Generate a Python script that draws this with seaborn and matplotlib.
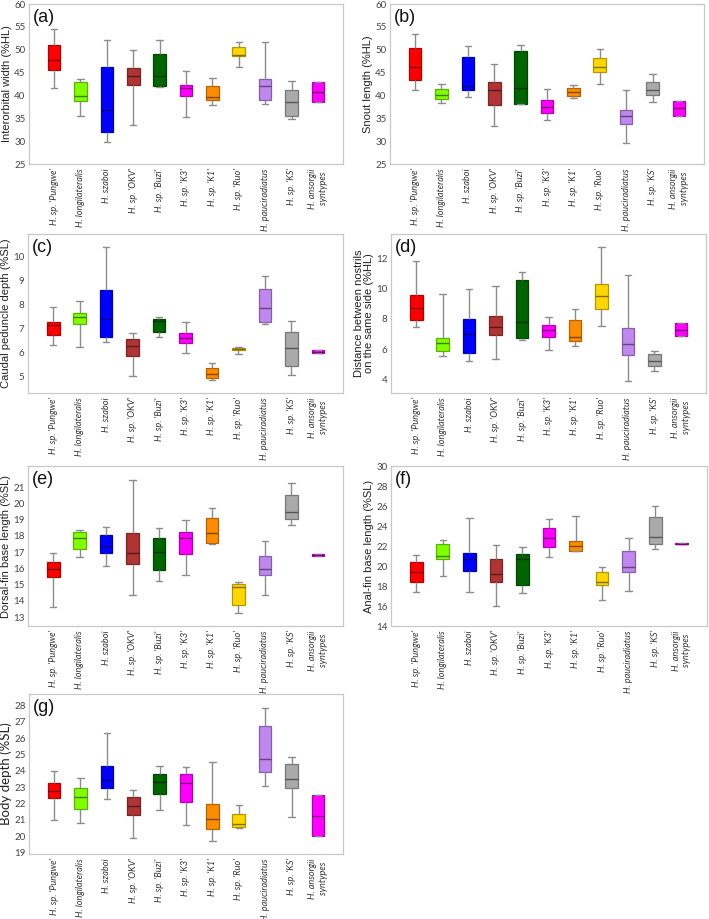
import pandas as pd
import matplotlib
matplotlib.use("Agg")
import matplotlib.pyplot as plt
import matplotlib.colors as mcolors
import seaborn as sns

sns.set_style("white")
plt.rcParams["font.family"] = ["Liberation Sans", "DejaVu Sans"]

# ---- species (x categories) and colours ----
species = ["H. sp. 'Pungwe'", "H. longilateralis", "H. szaboi", "H. sp. 'OKV'",
           "H. sp. 'Buzi'", "H. sp. 'K3'", "H. sp. 'K1'", "H. sp. 'Ruo'",
           "H. pauciradiatus", "H. sp. 'KS'", "H. ansorgii\nsyntypes"]
colors = ["#FF0000", "#80FF00", "#0000FF", "#B03434", "#006400", "#FF00FF",
          "#FF8C00", "#FFD700", "#BF88EE", "#AAAAAA", "#FF00FF"]

# ---- five-number summaries per species: min, q1, median, q3, max ----
interorbital = [[41.6, 45.6, 47.7, 51.0, 54.5], [35.5, 38.8, 39.9, 42.9, 43.6],
                [29.8, 32.1, 36.9, 46.3, 52.1], [33.6, 42.2, 44.3, 46.1, 50.0],
                [41.8, 42.1, 44.2, 49.0, 52.1], [35.3, 39.9, 41.6, 42.2, 45.4],
                [38.0, 38.9, 39.6, 42.0, 43.8], [46.3, 48.6, 48.9, 50.5, 51.6],
                [38.1, 38.9, 42.0, 43.6, 51.6], [34.9, 35.4, 38.5, 41.1, 43.2],
                [38.5, 38.5, 40.7, 42.9, 42.9]]
snout = [[41.1, 43.3, 46.2, 50.3, 53.5], [38.3, 39.2, 40.2, 41.5, 42.5],
         [39.6, 41.2, 42.1, 48.5, 50.8], [33.4, 37.9, 41.1, 42.9, 46.8],
         [38.1, 38.1, 41.7, 49.8, 51.0], [34.7, 36.2, 37.5, 39.1, 41.4],
         [39.4, 39.8, 40.8, 41.7, 42.3], [42.6, 45.2, 46.3, 48.1, 50.2],
         [29.7, 33.7, 35.5, 36.8, 41.1], [38.5, 40.2, 41.2, 42.9, 44.6],
         [35.4, 35.4, 37.2, 38.8, 38.8]]
caudal = [[6.32, 6.74, 7.13, 7.26, 7.90], [6.21, 7.19, 7.49, 7.64, 8.15],
          [6.42, 6.64, 7.40, 8.61, 10.39], [5.03, 5.83, 6.28, 6.54, 6.81],
          [6.65, 6.85, 7.32, 7.39, 7.46], [5.99, 6.40, 6.60, 6.79, 7.26],
          [4.85, 4.92, 5.10, 5.35, 5.54], [5.94, 6.08, 6.14, 6.19, 6.21],
          [7.18, 7.29, 7.85, 8.67, 9.19], [5.07, 5.43, 6.19, 6.86, 7.33],
          [5.97, 5.97, 6.03, 6.08, 6.08]]
nostrils = [[7.47, 7.91, 8.69, 9.55, 11.82], [5.55, 5.90, 6.39, 6.74, 9.61],
            [5.22, 5.72, 6.98, 7.96, 9.97], [5.35, 6.96, 7.49, 8.20, 10.19],
            [6.63, 6.76, 7.76, 10.54, 11.12], [5.97, 6.81, 7.29, 7.60, 8.09],
            [6.21, 6.54, 6.83, 7.89, 8.62], [7.51, 8.66, 9.50, 10.28, 12.75],
            [3.91, 5.61, 6.36, 7.40, 10.92], [4.57, 4.91, 5.24, 5.70, 5.86],
            [6.85, 6.85, 7.29, 7.71, 7.71]]
dorsal = [[13.59, 15.48, 15.97, 16.36, 16.96], [16.67, 17.16, 17.86, 18.25, 18.37],
          [16.16, 16.96, 17.35, 18.03, 18.54], [14.37, 16.24, 16.96, 18.17, 21.41],
          [15.24, 15.89, 17.00, 17.88, 18.48], [15.61, 16.90, 17.86, 18.25, 18.95],
          [17.49, 17.59, 18.17, 19.11, 19.71], [13.25, 13.72, 14.85, 15.01, 15.15],
          [14.37, 15.61, 15.97, 16.79, 17.68], [18.64, 19.05, 19.46, 20.53, 21.27],
          [16.77, 16.77, 16.82, 16.86, 16.86]]
anal = [[17.37, 18.40, 19.40, 20.43, 21.07], [19.03, 20.67, 20.97, 22.20, 22.57],
        [17.37, 19.50, 20.70, 21.33, 24.77], [16.00, 18.43, 19.17, 20.73, 22.13],
        [17.27, 18.13, 20.70, 21.20, 21.87], [20.93, 21.93, 22.77, 23.77, 24.67],
        [21.53, 21.53, 22.03, 22.50, 24.97], [16.60, 18.13, 18.43, 19.37, 19.87],
        [17.53, 19.40, 19.87, 21.47, 22.77], [21.67, 22.17, 22.87, 24.87, 25.97],
        [22.17, 22.17, 22.20, 22.27, 22.27]]
body = [[21.00, 22.33, 22.78, 23.24, 23.96], [20.80, 21.67, 22.39, 22.92, 23.53],
        [22.27, 22.94, 23.45, 24.27, 26.31], [19.88, 21.29, 21.86, 22.39, 22.84],
        [21.61, 22.55, 23.29, 23.80, 24.27], [20.67, 22.06, 23.24, 23.80, 24.20],
        [19.71, 20.45, 21.04, 21.96, 24.55], [20.47, 20.55, 20.73, 21.35, 21.88],
        [23.08, 23.92, 24.73, 26.71, 27.86], [21.16, 22.94, 23.49, 24.43, 24.82],
        [19.98, 19.98, 21.20, 22.49, 22.49]]

ylabels = ["Interorbital width (%HL)", "Snout length (%HL)",
           "Caudal peduncle depth (%SL)", "Distance between nostrils\non the same side (%HL)",
           "Dorsal-fin base length (%SL)", "Anal-fin base length (%SL)", "Body depth (%SL)"]
letters = ["(a)", "(b)", "(c)", "(d)", "(e)", "(f)", "(g)"]
ylims = [(25, 60), (25, 60), (4.3, 10.95), (3.1, 13.6), (12.45, 22.3), (14, 30), (18.9, 28.7)]
yticks = [range(25, 61, 5), range(25, 61, 5), range(5, 11), range(4, 13, 2),
          range(13, 22), range(14, 31, 2), range(19, 29)]
panels = [interorbital, snout, caudal, nostrils, dorsal, anal, body]

# axes boxes in pixels: left, top, right, bottom
W, H = 709, 919
boxes_px = [(29, 4, 343, 164), (390, 4, 704, 164),
            (28, 234, 343, 393), (391, 234, 706, 393),
            (28, 466, 343, 626), (391, 466, 707, 626),
            (29, 694, 343, 854)]


def darker(c, f=0.65):
    r, g, b = mcolors.to_rgb(c)
    return (r * f, g * f, b * f)


fig = plt.figure(figsize=(W / 100, H / 100), dpi=100)
palette = dict(zip(species, colors))

for i, summ in enumerate(panels):
    l, t, r, b = boxes_px[i]
    ax = fig.add_axes([l / W, 1 - b / H, (r - l) / W, (b - t) / H])
    # long table: the five summary numbers per species
    rows = [(sp, v) for sp, vals in zip(species, summ) for v in vals]
    df = pd.DataFrame(rows, columns=["species", "value"])
    sns.boxplot(data=df, x="species", y="value", hue="species", order=species,
                hue_order=species, palette=palette, dodge=False, legend=False,
                saturation=1, whis=(0, 100), width=0.48, linewidth=1.0,
                linecolor="#8c8c8c", ax=ax)
    for cont in ax.containers:
        for box in cont.boxes:
            fc = box.get_facecolor()
            box.set_edgecolor(darker(fc, 0.7))
            box.set_linewidth(0.9)
        for med in cont.medians:
            med.set_color(darker(fc, 0.5))
            med.set_linewidth(1.0)
        for w in list(cont.whiskers) + list(cont.caps):
            w.set_color("#8c8c8c")
            w.set_linewidth(1.0)

    ax.set_xlim(-0.95, 10.95)
    ax.set_ylim(*ylims[i])
    ax.set_yticks(list(yticks[i]))
    ax.set_xlabel("")
    if i < 6:
        ax.set_ylabel(ylabels[i], fontsize=8, color="#222222", labelpad=1.5,
                      linespacing=1.0, family=["Liberation Sans", "DejaVu Sans"])
    else:
        ax.set_ylabel(ylabels[i], fontsize=9.5, color="#222222", labelpad=1.5,
                      family=["Lato", "DejaVu Sans"])
    ax.set_xticks(range(len(species)))
    ax.set_xticklabels(species, rotation=90, fontsize=6.6, style="italic",
                       color="#333333", family=["Lato", "DejaVu Sans"],
                       ha="center", va="top", multialignment="center")
    ax.tick_params(axis="x", length=0, pad=3)
    ax.tick_params(axis="y", length=2, width=0.6, color="#999999", pad=0.5,
                   labelsize=7, labelcolor="#444444")
    for lab in ax.get_yticklabels():
        lab.set_family(["Lato", "DejaVu Sans"])
    for s in ax.spines.values():
        s.set_color("#c8c8c8")
        s.set_linewidth(0.9)
    ax.text(0.012, 0.97, letters[i], transform=ax.transAxes, fontsize=13,
            va="top", ha="left", color="#111111")

fig.savefig("out.png", dpi=100)
